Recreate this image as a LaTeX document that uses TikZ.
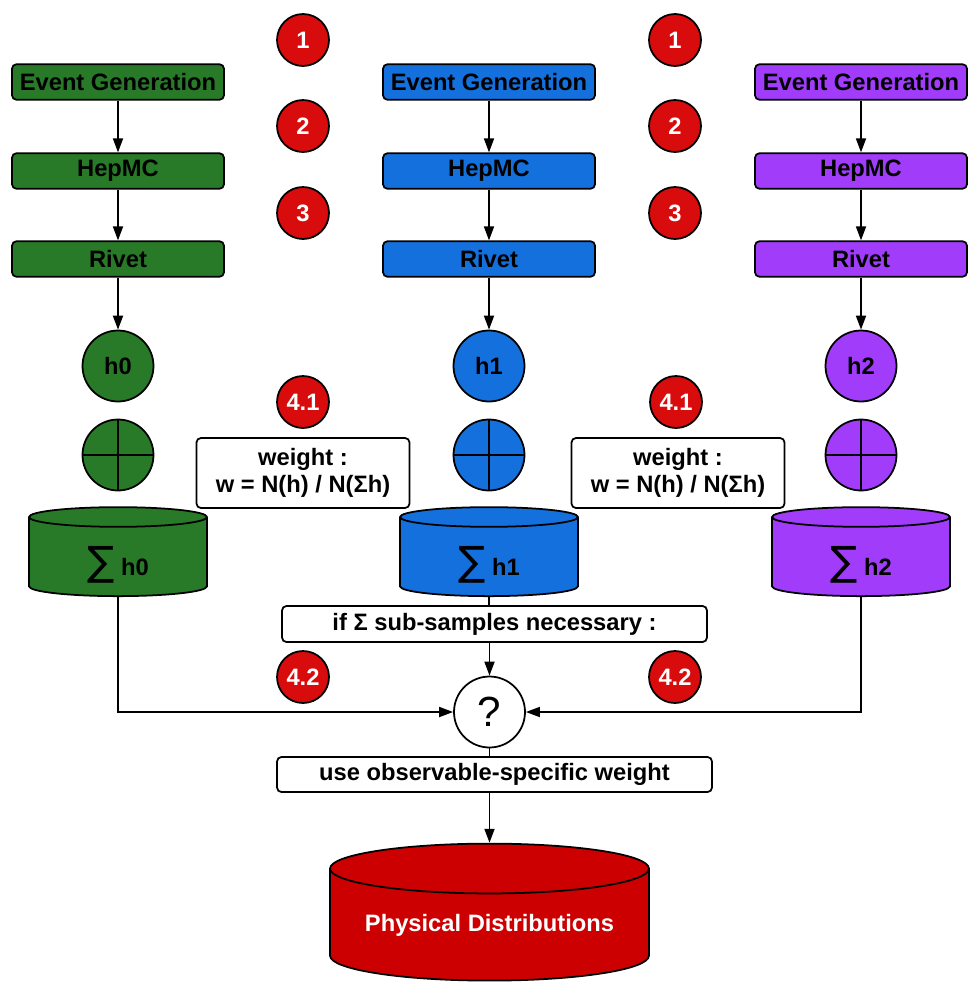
\documentclass[tikz,border=0pt]{standalone}
\usepackage{fontspec}
\setmainfont{Liberation Sans}
\newfontfamily\symfont{DejaVu Sans}
\usetikzlibrary{arrows.meta, shapes.geometric, positioning}
\definecolor{evgreen}{HTML}{287A28}
\definecolor{evblue}{HTML}{1470DC}
\definecolor{evpurple}{HTML}{A03CFA}
\definecolor{stepred}{HTML}{D80C0C}
\definecolor{distred}{HTML}{CC0000}

\tikzset{
  labelfont/.style={font=\fontsize{13.5}{15.5}\selectfont\bfseries},
  procbox/.style={draw=black, line width=1pt, rounded corners=2.5pt, minimum width=4.24cm, minimum height=0.71cm, inner sep=0pt, labelfont},
  histnode/.style={draw=black, line width=1pt, circle, minimum size=1.42cm, inner sep=0pt, labelfont},
  stepmark/.style={draw=black, line width=1pt, circle, fill=stepred, minimum size=1.04cm, inner sep=0pt, text=white, labelfont},
  notebox/.style={draw=black, fill=white, line width=1pt, rounded corners=2.5pt, inner sep=0pt, labelfont, align=center},
  store/.style={cylinder, shape border rotate=90, draw=black, line width=1pt, aspect=0.32, inner sep=0pt, labelfont},
  sumstore/.style={store, minimum width=3.56cm, minimum height=1.78cm, text height=0.95cm, text depth=0.2cm},
  flow/.style={-{Triangle[length=0.28cm, width=0.2cm]}, line width=1pt},
}
\newcommand{\bigsum}{{\symfont\mdseries\fontsize{23}{23}\selectfont ∑}}

\begin{document}
\begin{tikzpicture}[x=0.02cm, y=-0.02cm]
  \useasboundingbox (0,0) rectangle (971,984);

  % Etapas numeradas
  \node[stepmark] (s1a) at (303,40) {1};
  \node[stepmark] (s2a) at (303,126) {2};
  \node[stepmark] (s3a) at (303,213) {3};
  \node[stepmark] (s1b) at (675,40) {1};
  \node[stepmark] (s2b) at (675,126) {2};
  \node[stepmark] (s3b) at (675,213) {3};

  % Cadena verde
  \node[procbox, fill=evgreen] (gen0) at (118,82) {Event Generation};
  \node[procbox, fill=evgreen] (hep0) at (118,171) {HepMC};
  \node[procbox, fill=evgreen] (riv0) at (118,259) {Rivet};
  \node[histnode, fill=evgreen] (h0) at (118,366) {h0};
  \node[histnode, fill=evgreen] (add0) at (118,455) {};
  \draw[line width=1pt] (add0.north) -- (add0.south) (add0.west) -- (add0.east);
  \node[sumstore, fill=evgreen] (sum0) at (118,557) {\bigsum\ h0};

  % Cadena azul
  \node[procbox, fill=evblue] (gen1) at (489,82) {Event Generation};
  \node[procbox, fill=evblue] (hep1) at (489,171) {HepMC};
  \node[procbox, fill=evblue] (riv1) at (489,259) {Rivet};
  \node[histnode, fill=evblue] (h1) at (489,366) {h1};
  \node[histnode, fill=evblue] (add1) at (489,455) {};
  \draw[line width=1pt] (add1.north) -- (add1.south) (add1.west) -- (add1.east);
  \node[sumstore, fill=evblue] (sum1) at (489,557) {\bigsum\ h1};

  % Cadena violeta
  \node[procbox, fill=evpurple] (gen2) at (861,82) {Event Generation};
  \node[procbox, fill=evpurple] (hep2) at (861,171) {HepMC};
  \node[procbox, fill=evpurple] (riv2) at (861,259) {Rivet};
  \node[histnode, fill=evpurple] (h2) at (861,366) {h2};
  \node[histnode, fill=evpurple] (add2) at (861,455) {};
  \draw[line width=1pt] (add2.north) -- (add2.south) (add2.west) -- (add2.east);
  \node[sumstore, fill=evpurple] (sum2) at (861,557) {\bigsum\ h2};

  % Flechas de cada cadena
  \draw[flow] (gen0) -- (hep0);
  \draw[flow] (hep0) -- (riv0);
  \draw[flow] (riv0) -- (h0);
  \draw[flow] (gen1) -- (hep1);
  \draw[flow] (hep1) -- (riv1);
  \draw[flow] (riv1) -- (h1);
  \draw[flow] (gen2) -- (hep2);
  \draw[flow] (hep2) -- (riv2);
  \draw[flow] (riv2) -- (h2);

  % Pesos
  \node[stepmark] (w1a) at (303,402) {4.1};
  \node[stepmark] (w1b) at (676,402) {4.1};
  \node[notebox, minimum width=4.26cm, minimum height=1.4cm] (wgt0) at (303,473) {weight :\\w = N(h) / N(Σh)};
  \node[notebox, minimum width=4.26cm, minimum height=1.4cm] (wgt1) at (678,473) {weight :\\w = N(h) / N(Σh)};

  % Combinacion
  \node[notebox, minimum width=8.5cm, minimum height=0.72cm] (ifsum) at (494.5,624) {if Σ sub-samples necessary :};
  \node[stepmark] (w2a) at (303,677) {4.2};
  \node[stepmark] (w2b) at (675,677) {4.2};
  \node[histnode, fill=white, font=\fontsize{24}{24}\selectfont] (choice) at (489.5,712) {?};
  \node[notebox, minimum width=8.7cm, minimum height=0.7cm] (obsw) at (494.5,774.5) {use observable-specific weight};
  \node[store, fill=distred, text=white, minimum width=6.38cm, minimum height=2.74cm, aspect=0.2] (phys) at (489.5,925) {Physical Distributions};

  \draw[line width=1pt] (sum1) -- (ifsum.north -| sum1);
  \draw[flow] (ifsum.south -| choice) -- (choice);
  \draw[flow] (sum0.south) |- (choice.west);
  \draw[flow] (sum2.south) |- (choice.east);
  \draw[line width=1pt] (choice) -- (obsw.north -| choice);
  \draw[flow] (obsw.south -| choice) -- (phys);
\end{tikzpicture}
\end{document}
